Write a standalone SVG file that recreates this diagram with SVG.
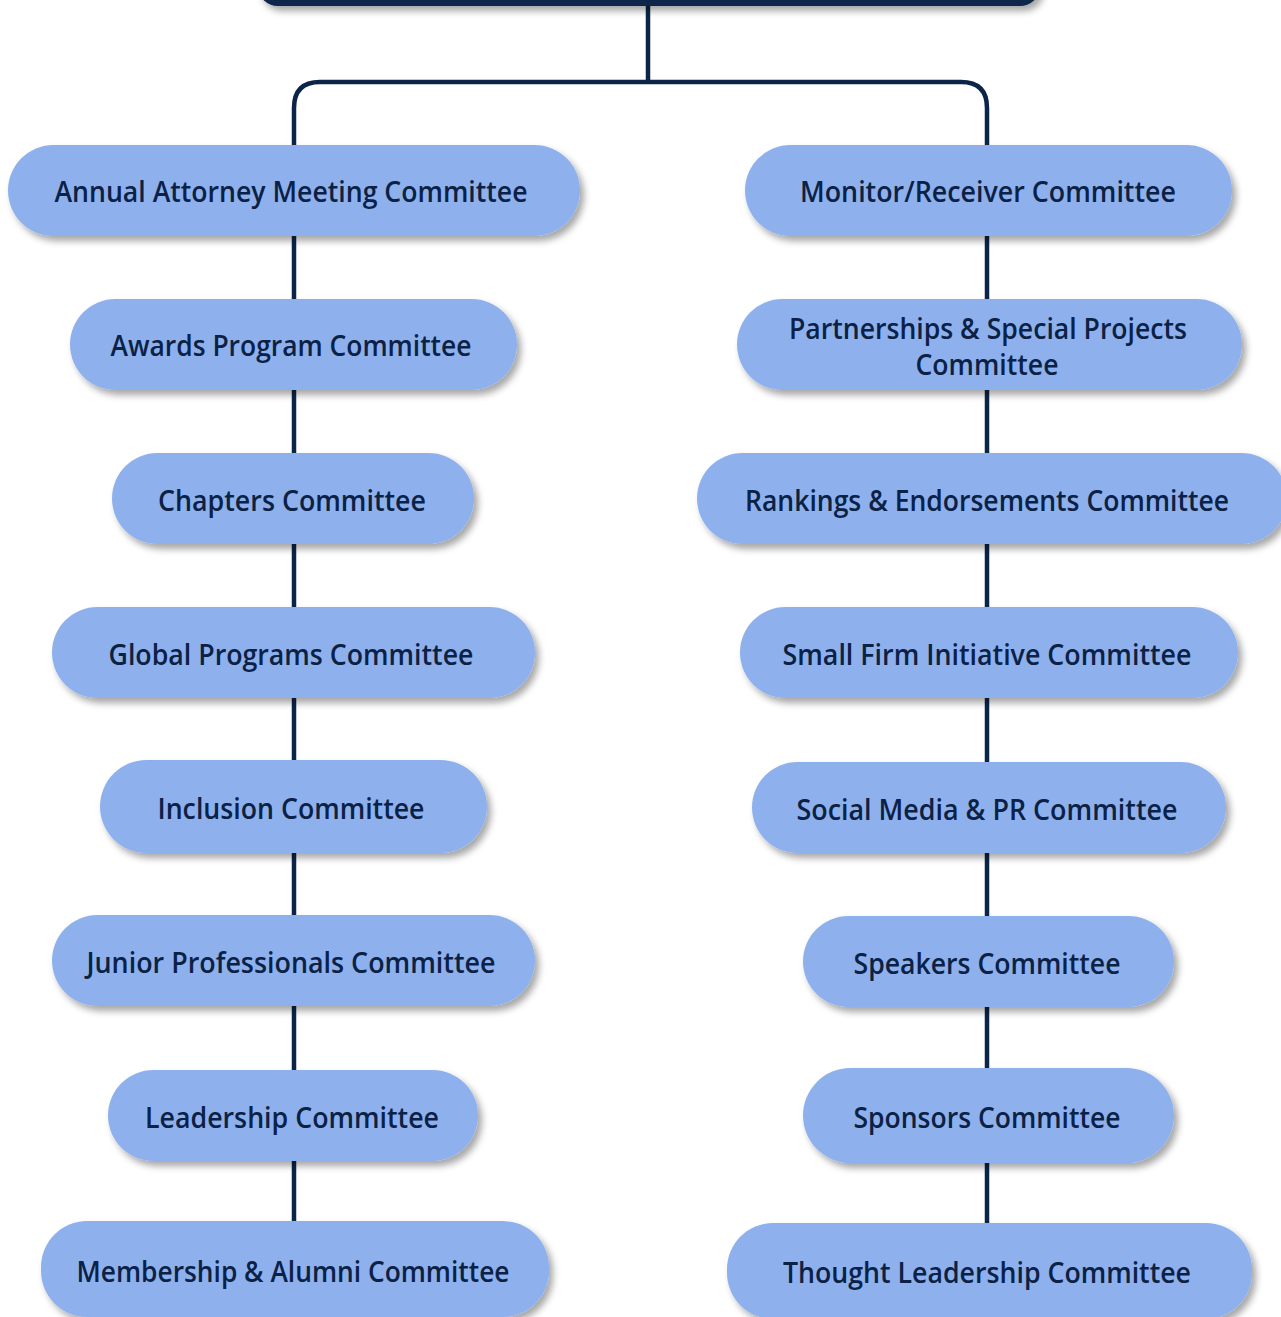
<svg xmlns="http://www.w3.org/2000/svg" width="1281" height="1317" viewBox="0 0 1281 1317">
<defs>
<filter id="sh" x="-10%" y="-30%" width="120%" height="170%">
<feDropShadow dx="4" dy="5" stdDeviation="3.5" flood-color="#000" flood-opacity="0.35"/>
</filter>
<style>
.n{fill:#8eb1ee;filter:url(#sh)}
.t{font-family:"Open Sans","Liberation Sans",sans-serif;font-weight:600;font-size:29px;fill:#0b2145;text-anchor:middle}
.c{fill:none;stroke:#0b2549;stroke-width:4.5}
</style>
</defs>
<rect width="1281" height="1317" fill="#fff"/>
<g id="connectors">
<path class="c" d="M648 5V82M294 145V108Q294 82 320 82H961Q987 82 987 108V145"/>
<path class="c" d="M294 236V299M294 390V453M294 544V607M294 698V760M294 853V915M294 1006V1070M294 1161V1221"/>
<path class="c" d="M987 236V299M987 390V453M987 544V607M987 698V762M987 853V916M987 1007V1068M987 1163V1223"/>
</g>
<g id="root"><rect x="258" y="-60" width="782" height="66" rx="20" fill="#0b2549" filter="url(#sh)"/></g>
<g id="n1"><rect class="n" x="8" y="145" width="572" height="91" rx="45.5"/><text class="t" x="291" y="202" textLength="473" lengthAdjust="spacingAndGlyphs">Annual Attorney Meeting Committee</text></g>
<g id="n2"><rect class="n" x="70" y="299" width="447" height="91" rx="45.5"/><text class="t" x="291" y="356" textLength="361" lengthAdjust="spacingAndGlyphs">Awards Program Committee</text></g>
<g id="n3"><rect class="n" x="112" y="453" width="362" height="91" rx="45.5"/><text class="t" x="292" y="511" textLength="268" lengthAdjust="spacingAndGlyphs">Chapters Committee</text></g>
<g id="n4"><rect class="n" x="52" y="607" width="483" height="91" rx="45.5"/><text class="t" x="291" y="665" textLength="365" lengthAdjust="spacingAndGlyphs">Global Programs Committee</text></g>
<g id="n5"><rect class="n" x="100" y="760" width="387" height="93" rx="46.5"/><text class="t" x="291" y="819" textLength="267" lengthAdjust="spacingAndGlyphs">Inclusion Committee</text></g>
<g id="n6"><rect class="n" x="52" y="915" width="483" height="91" rx="45.5"/><text class="t" x="291" y="973" textLength="409" lengthAdjust="spacingAndGlyphs">Junior Professionals Committee</text></g>
<g id="n7"><rect class="n" x="108" y="1070" width="370" height="91" rx="45.5"/><text class="t" x="292" y="1128" textLength="294" lengthAdjust="spacingAndGlyphs">Leadership Committee</text></g>
<g id="n8"><rect class="n" x="41" y="1221" width="508" height="96" rx="46"/><text class="t" x="293" y="1282" textLength="433" lengthAdjust="spacingAndGlyphs">Membership &amp; Alumni Committee</text></g>
<g id="m1"><rect class="n" x="745" y="145" width="487" height="91" rx="45.5"/><text class="t" x="988" y="202" textLength="376" lengthAdjust="spacingAndGlyphs">Monitor/Receiver Committee</text></g>
<g id="m2"><rect class="n" x="737" y="299" width="505" height="91" rx="45.5"/><text class="t" x="988" y="339" textLength="398" lengthAdjust="spacingAndGlyphs">Partnerships &amp; Special Projects</text><text class="t" x="987" y="375" textLength="143" lengthAdjust="spacingAndGlyphs">Committee</text></g>
<g id="m3"><rect class="n" x="697" y="453" width="590" height="91" rx="45.5"/><text class="t" x="987" y="511" textLength="484" lengthAdjust="spacingAndGlyphs">Rankings &amp; Endorsements Committee</text></g>
<g id="m4"><rect class="n" x="740" y="607" width="498" height="91" rx="45.5"/><text class="t" x="987" y="665" textLength="409" lengthAdjust="spacingAndGlyphs">Small Firm Initiative Committee</text></g>
<g id="m5"><rect class="n" x="752" y="762" width="474" height="91" rx="45.5"/><text class="t" x="987" y="820" textLength="381" lengthAdjust="spacingAndGlyphs">Social Media &amp; PR Committee</text></g>
<g id="m6"><rect class="n" x="803" y="916" width="371" height="91" rx="45.5"/><text class="t" x="987" y="974" textLength="267" lengthAdjust="spacingAndGlyphs">Speakers Committee</text></g>
<g id="m7"><rect class="n" x="803" y="1068" width="371" height="95" rx="47.5"/><text class="t" x="987" y="1128" textLength="267" lengthAdjust="spacingAndGlyphs">Sponsors Committee</text></g>
<g id="m8"><rect class="n" x="727" y="1223" width="525" height="96" rx="46"/><text class="t" x="987" y="1283" textLength="408" lengthAdjust="spacingAndGlyphs">Thought Leadership Committee</text></g>
</svg>
